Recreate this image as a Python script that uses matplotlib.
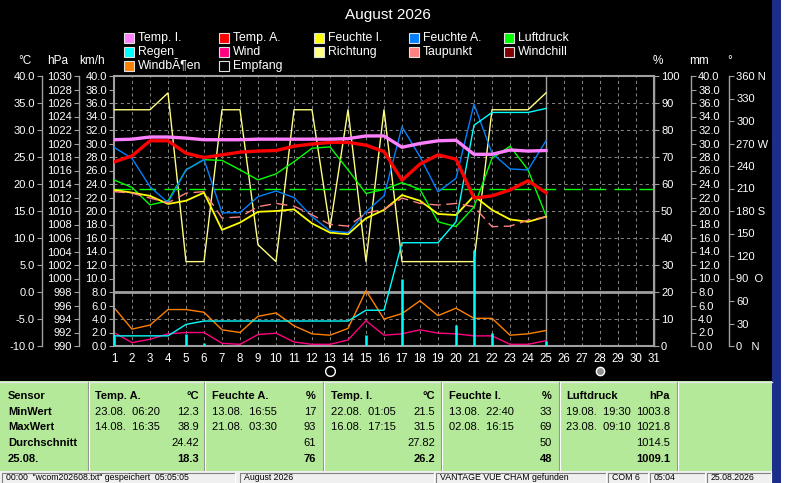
import matplotlib
matplotlib.use("Agg")
import matplotlib.pyplot as plt
import numpy as np
from matplotlib.lines import Line2D
from matplotlib.patches import Rectangle
from matplotlib.transforms import blended_transform_factory

plt.rcParams["font.family"] = ["Liberation Sans", "DejaVu Sans"]

W, H = 800, 483

# daily values, August 2026 (days 1..25)
days = list(range(1, 26))
temp_innen = [28.2, 28.3, 28.7, 28.7, 28.5, 28.2, 28.2, 28.2, 28.3, 28.3, 28.3, 28.3, 28.3,
              28.4, 28.9, 28.9, 26.8, 27.5, 28.0, 28.1, 25.5, 25.5, 26.3, 26.1, 26.2]
temp_aussen = [24.1, 25.2, 28.0, 28.0, 25.7, 24.9, 25.4, 25.9, 26.1, 26.2, 27.0, 27.4, 27.7,
               27.7, 27.2, 26.0, 20.7, 23.7, 25.4, 24.6, 17.4, 17.8, 18.9, 20.6, 18.4]
feuchte_innen = [57.8, 56.8, 55.6, 52.6, 53.8, 56.8, 43.0, 45.7, 49.7, 50.0, 50.6, 45.4, 42.0,
                 41.4, 47.3, 50.4, 55.9, 53.8, 48.9, 48.5, 55.6, 50.4, 46.9, 46.0, 47.9]
feuchte_aussen = [73.6, 69.5, 59.0, 53.1, 65.2, 69.1, 49.3, 49.4, 55.3, 57.4, 55.0, 47.9, 42.6,
                  42.0, 49.7, 55.6, 81.2, 70.1, 57.1, 62.1, 89.6, 71.4, 65.6, 65.2, 76.0]
luftdruck = [1014.6, 1013.5, 1010.9, 1011.5, 1016.1, 1017.6, 1017.5, 1016.1, 1014.6, 1015.5,
             1017.3, 1019.3, 1019.5, 1016.1, 1012.6, 1013.2, 1014.2, 1013.2, 1008.4, 1007.7,
             1010.6, 1017.8, 1019.6, 1016.1, 1009.3]
taupunkt = [18.6, 18.3, 17.4, 16.5, 18.3, 18.6, 13.7, 13.9, 15.8, 16.4, 15.9, 14.3, 12.5,
            12.2, 14.6, 15.3, 17.4, 16.4, 16.1, 16.4, 15.8, 12.1, 12.2, 13.3, 13.9]
richtung = [315, 315, 315, 337.5, 112.5, 112.5, 315, 315, 135, 112.5, 315, 315, 157.5,
            315, 112.5, 315, 112.5, 112.5, 112.5, 112.5, 112.5, 315, 315, 315, 337.5]
regen_summe = [1.5, 1.5, 1.5, 1.5, 3.2, 3.7, 3.7, 3.7, 3.7, 3.7, 3.7, 3.7, 3.7,
               3.7, 5.3, 5.3, 15.3, 15.3, 15.3, 18.4, 32.7, 34.6, 34.6, 34.6, 35.2]
regen_tag = [1.5, 0, 0, 0, 1.8, 0.5, 0, 0, 0, 0, 0, 0, 0,
             0, 1.6, 0, 9.9, 0, 0, 3.1, 14.2, 2.0, 0, 0, 0.7]
wind = [2.0, 0.5, 1.0, 1.8, 2.0, 2.0, 0.4, 0.25, 1.7, 1.9, 0.6, 0.25, 0.25,
        0.9, 3.75, 1.6, 1.8, 2.4, 1.9, 1.8, 1.5, 1.5, 0.25, 0.25, 0.8]
windboeen = [5.7, 2.5, 3.1, 5.4, 5.4, 5.0, 2.4, 2.0, 4.4, 4.9, 3.0, 1.8, 1.6,
             2.6, 8.2, 4.0, 4.8, 6.7, 4.5, 5.6, 4.1, 4.1, 1.6, 1.8, 2.3]
norm_druck = 1013.25
heute = 25
moon_days = [13, 28]
moon_full = [True, False]
month_days = list(range(1, 32))

legend_labels = ["Temp. I.", "Regen", "WindbÃ¶en", "Temp. A.", "Wind", "Empfang",
                 "Feuchte I.", "Richtung", "Feuchte A.", "Taupunkt", "Luftdruck", "Windchill"]
legend_colors = ["#ff80ff", "#00ffff", "#ff8000", "#ff0000", "#ff0080", "#000000",
                 "#ffff00", "#ffff80", "#0080ff", "#ff8080", "#00ff00", "#800000"]

# summary table
row_labels = ["Sensor", "MinWert", "MaxWert", "Durchschnitt", "25.08."]
sensors = ["Temp. A.", "Feuchte A.", "Temp. I.", "Feuchte I.", "Luftdruck"]
units = ["°C", "%", "°C", "%", "hPa"]
min_time = ["23.08.  06:20", "13.08.  16:55", "22.08.  01:05", "13.08.  22:40", "19.08.  19:30"]
min_val = ["12.3", "17", "21.5", "33", "1003.8"]
max_time = ["14.08.  16:35", "21.08.  03:30", "16.08.  17:15", "02.08.  16:15", "23.08.  09:10"]
max_val = ["38.9", "93", "31.5", "69", "1021.8"]
avg_val = ["24.42", "61", "27.82", "50", "1014.5"]
today_val = ["18.3", "76", "26.2", "48", "1009.1"]

status_texts = ['00:00  "wcom202608.txt" gespeichert  05:05:05', "August 2026",
                "VANTAGE VUE CHAM gefunden", "COM 6", "05:04", "25.08.2026"]

GRAY = "#a0a0a0"
PANEL = "#b5e99a"

fig = plt.figure(figsize=(8, 4.83), dpi=100, facecolor="white")


def fig_rect(x0, y0, x1, y1, **kw):
    kw.setdefault("edgecolor", "none")
    fig.add_artist(Rectangle((x0 / W, 1 - y1 / H), (x1 - x0) / W, (y1 - y0) / H,
                             transform=fig.transFigure, **kw))


def fig_line(xs, ys, **kw):
    fig.add_artist(Line2D([x / W for x in xs], [1 - y / H for y in ys],
                          transform=fig.transFigure, **kw))


def fig_text(x, y, s, **kw):
    fig.text(x / W, 1 - y / H, s, **kw)


# window background
fig_rect(0, 0, 772, 381, facecolor="black", zorder=-5)
fig_rect(772, 0, 781, 483, facecolor="#1b2f8a", zorder=-5)

fig_text(388, 15, "August 2026", color="white", fontsize=11, ha="center", va="center")

# legend
leg_cols = [124, 219, 314, 409, 504]
leg_rows = [38, 52, 66]
slots = [(0, 0), (0, 1), (0, 2), (1, 0), (1, 1), (1, 2), (2, 0), (2, 1), (3, 0), (3, 1), (4, 0), (4, 1)]
for (c, r), lab, col in zip(slots, legend_labels, legend_colors):
    x, y = leg_cols[c], leg_rows[r]
    fig_rect(x, y - 5, x + 10, y + 5, facecolor=col, edgecolor="#e0e0e0", lw=0.8)
    fig_text(x + 14, y, lab, color="white", fontsize=8.8, va="center")

# unit labels
for x, s in [(25, "°C"), (58, "hPa"), (92, "km/h"), (658, "%"), (699, "mm"), (730, "°")]:
    fig_text(x, 61, s, color="white", fontsize=8.5, ha="center", va="center")

# axes
ax = fig.add_axes([114 / W, 1 - 346 / H, 540 / W, 270 / H])
ax.set_facecolor("none")
ax.set_xlim(1, 31)
ax.set_ylim(0, 40)
ax.set_zorder(1)

ax_d = ax.twinx()
ax_p = ax.twinx()
ax_h = ax.twinx()
ax_r = ax.twinx()
ax_c = ax.twinx()
for z, a in enumerate([ax_d, ax_p, ax_h, ax_r, ax_c], start=2):
    a.set_zorder(z)
    a.patch.set_visible(False)


def style_axis(a, side, offset_px, ticks, labels):
    for s in a.spines.values():
        s.set_visible(False)
    sp = a.spines[side]
    sp.set_visible(True)
    sp.set_position(("outward", offset_px * 0.72))
    sp.set_color(GRAY)
    sp.set_linewidth(1.0)
    a.yaxis.set_ticks_position(side)
    a.set_yticks(ticks)
    a.set_yticklabels(labels)
    a.tick_params(axis="y", direction="out", length=3.6, width=0.8, color=GRAY,
                  labelcolor="white", labelsize=8, pad=1.5)


ax_c.set_ylim(-10, 40)
t = np.arange(-10, 41, 5)
style_axis(ax_c, "left", 72, t, [f"{v:.1f}" for v in t])

ax_p.set_ylim(990, 1030)
t = np.arange(990, 1031, 2)
style_axis(ax_p, "left", 35, t, [f"{v}" for v in t])

ax_h.set_ylim(0, 100)
t = np.arange(0, 101, 10)
style_axis(ax_h, "right", 0, t, [f"{v}" for v in t])

ax_r.set_ylim(0, 40)
t = np.arange(0, 41, 2)
style_axis(ax_r, "right", 37, t, [f"{v:.1f}" for v in t])

ax_d.set_ylim(0, 360)
t = np.arange(0, 361, 30)
compass = {0: "   N", 90: "  O", 180: " S", 270: " W", 360: " N"}
style_axis(ax_d, "right", 75, t, [f"{v}{compass.get(v, '')}" for v in t])

# main axis: km/h, frame and grid
t = np.arange(0, 41, 2)
ax.set_yticks(t)
ax.set_yticklabels([f"{v:.1f}" for v in t])
ax.tick_params(axis="y", direction="out", length=3.6, width=0.8, color=GRAY,
               labelcolor="white", labelsize=8, pad=1.5)
ax.set_xticks(month_days)
ax.set_xticklabels([str(d) for d in month_days])
ax.tick_params(axis="x", length=0, pad=5, labelcolor="white", labelsize=8.3)
for s in ax.spines.values():
    s.set_color(GRAY)
    s.set_linewidth(1.5)
ax.grid(axis="x", color="#808080", lw=0.75, ls=(0, (3, 3)))
for v in np.arange(4, 40, 4):
    if v != 8:
        ax.axhline(v, color="#808080", lw=0.75, ls=(0, (3, 3)), zorder=0.5)
ax.axhline(8, color=GRAY, lw=2)
ax.axvline(heute, color=GRAY, lw=1)

# series
ax.plot(days, windboeen, color="#ff8000", lw=1)
ax.plot(days, wind, color="#ff0080", lw=1)
ax_d.plot(days, richtung, color="#ffff80", lw=1)
ax_p.axhline(norm_druck, color="#00ff00", lw=1, ls=(0, (12, 6)))
ax_p.plot(days, luftdruck, color="#00ff00", lw=1)
ax_h.plot(days, feuchte_innen, color="#ffff00", lw=1.3)
ax_h.plot(days, feuchte_aussen, color="#0080ff", lw=1)
ax_r.vlines(days, 0, regen_tag, color="#00ffff", lw=1.8)
ax_r.plot(days, regen_summe, color="#00ffff", lw=1)
ax_c.plot(days, taupunkt, color="#ff8080", lw=1, ls=(0, (8, 4)))
ax_c.plot(days, temp_aussen, color="#ff0000", lw=2.4)
ax_c.plot(days, temp_innen, color="#ff80ff", lw=2.4)

# moon phases below the day labels
trans = blended_transform_factory(ax.transData, ax.transAxes)
for d, full in zip(moon_days, moon_full):
    ax.plot([d], [-0.093], marker="o", ms=7 if full else 6, transform=trans, clip_on=False,
            mfc="none" if full else "#909090", mec="white", mew=1)

# summary table
fig_rect(0, 381, 772, 471, facecolor=PANEL, zorder=1)
fig_line([0, 772], [381.5, 381.5], color="#e8e8e8", lw=1)
for x in [88, 204, 323, 441, 559, 677]:
    fig_line([x, x], [382, 470], color="#909090", lw=0.8)
    fig_line([x + 1, x + 1], [382, 470], color="white", lw=0.8)
row_y = [396, 412, 427, 443, 459]
for y, lab in zip(row_y, row_labels):
    fig_text(8, y, lab, fontsize=8, fontweight="bold", va="center")
col_left = [95, 212, 331, 449, 566]
col_right = [199, 316, 435, 552, 670]
for i in range(len(sensors)):
    xl, xr = col_left[i], col_right[i]
    fig_text(xl, row_y[0], sensors[i], fontsize=8, fontweight="bold", va="center")
    fig_text(xr, row_y[0], units[i], fontsize=8, fontweight="bold", va="center", ha="right")
    fig_text(xl, row_y[1], min_time[i], fontsize=8, va="center")
    fig_text(xr, row_y[1], min_val[i], fontsize=8, va="center", ha="right")
    fig_text(xl, row_y[2], max_time[i], fontsize=8, va="center")
    fig_text(xr, row_y[2], max_val[i], fontsize=8, va="center", ha="right")
    fig_text(xr, row_y[3], avg_val[i], fontsize=8, va="center", ha="right")
    fig_text(xr, row_y[4], today_val[i], fontsize=8, fontweight="bold", va="center", ha="right")

# status bar
fig_rect(0, 471, 772, 483, facecolor="#f0f0f0", zorder=1)
status_boxes = [(2, 235), (240, 434), (436, 606), (608, 648), (650, 705), (707, 771)]
for (x0, x1), s in zip(status_boxes, status_texts):
    fig_line([x0, x0, x1], [483, 473, 473], color="#808080", lw=0.8)
    fig_line([x1, x1], [473, 483], color="white", lw=0.8)
    fig_text(x0 + 4, 477.5, s, fontsize=6.3, va="center")

fig.savefig("out.png", dpi=100, facecolor=fig.get_facecolor())
